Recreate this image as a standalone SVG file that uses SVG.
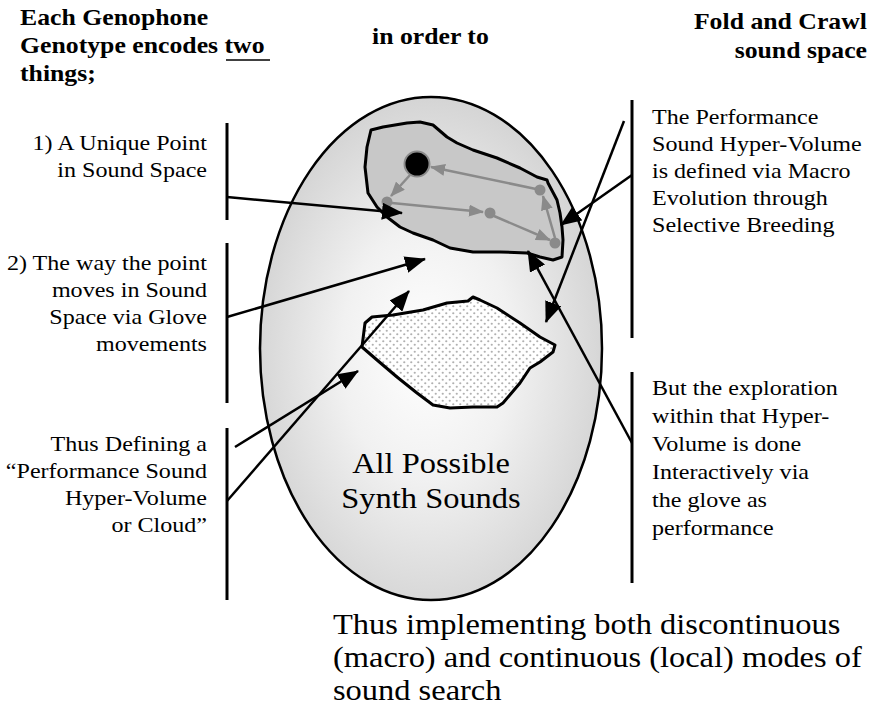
<svg xmlns="http://www.w3.org/2000/svg" width="870" height="708" viewBox="0 0 870 708">
<style>
text{font-family:'Liberation Serif','Times New Roman',Times,Tinos,'DejaVu Serif',serif}
.hdr{font-weight:bold;font-size:23px;fill:#000}
.body{font-size:21.5px;fill:#000}
.big{font-size:29.5px;fill:#000}
.bar{stroke:#000;stroke-width:3;fill:none}
.conn{stroke:#000;stroke-width:2.5;fill:none;marker-end:url(#ah)}
.garr{stroke:#8a8a8a;stroke-width:2.5;fill:none;marker-end:url(#gh)}
</style>
<defs>
<radialGradient id="bg" cx="0.5" cy="0.52" r="0.56" fx="0.48" fy="0.5">
<stop offset="0" stop-color="#ffffff"/>
<stop offset="0.45" stop-color="#f1f1f1"/>
<stop offset="1" stop-color="#d0d0d0"/>
</radialGradient>
<pattern id="dots" width="7" height="7" patternUnits="userSpaceOnUse">
<rect width="7" height="7" fill="#fff"/>
<circle cx="1.75" cy="1.75" r="1.1" fill="#b0b0b0"/>
<circle cx="5.25" cy="5.25" r="1.1" fill="#b0b0b0"/>
</pattern>
<marker id="ah" markerUnits="userSpaceOnUse" markerWidth="21" markerHeight="17" refX="20" refY="8.5" orient="auto">
<path d="M0,0 L21,8.5 L0,17 z" fill="#000"/>
</marker>
<marker id="gh" markerUnits="userSpaceOnUse" markerWidth="15" markerHeight="12" refX="14" refY="6" orient="auto">
<path d="M0,0 L15,6 L0,12 z" fill="#8a8a8a"/>
</marker>
</defs>

<g id="space">
<ellipse cx="431" cy="348.5" rx="171" ry="251.5" fill="url(#bg)" stroke="#000" stroke-width="2.5"/>
</g>

<g id="hypervolume">
<path d="M371,130 L383,127 L407,123 L420,122 L433,125 L447,137 L457,143 L473,150 L497,158 L520,168 L537,177 L547,180 L548,183 L557,200 L560,213 L562,227 L563,240 L562,257 L553,260 L540,257 L527,253 L500,252 L473,252 L450,248 L433,240 L413,233 L400,227 L387,217 L377,207 L368,193 L365,167 L367,147 Z" fill="#c8c8c8" stroke="#000" stroke-width="3" stroke-linejoin="round"/>
</g>

<g id="trajectory">
<line class="garr" x1="536" y1="189" x2="431" y2="167"/>
<line class="garr" x1="410" y1="175" x2="391" y2="196"/>
<line class="garr" x1="392" y1="203" x2="483" y2="212"/>
<line class="garr" x1="494" y1="216" x2="550" y2="240"/>
<line class="garr" x1="555" y1="238" x2="543" y2="196"/>
<circle cx="417" cy="164" r="12.5" fill="#000" stroke="#8a8a8a" stroke-width="2"/>
<circle cx="540" cy="190" r="5.5" fill="#8a8a8a"/>
<circle cx="490" cy="213" r="5.5" fill="#8a8a8a"/>
<circle cx="555" cy="243" r="5.5" fill="#8a8a8a"/>
<circle cx="387" cy="202" r="5.5" fill="#8a8a8a"/>
</g>

<g id="local-cloud">
<path d="M362,347 L365,323 L372,317 L393,315 L423,310 L447,303 L468,301 L473,297 L480,300 L497,308 L520,323 L540,337 L555,345 L553,352 L540,362 L530,368 L520,383 L503,403 L497,407 L473,407 L450,408 L433,405 L417,393 L397,377 L377,360 Z" fill="url(#dots)" stroke="#000" stroke-width="3" stroke-linejoin="round"/>
</g>

<g id="center-label">
<text class="big" text-anchor="middle" transform="translate(431,473) scale(1.1,1)"><tspan x="0" y="0">All Possible</tspan><tspan x="0" y="35">Synth Sounds</tspan></text>
</g>

<g id="bars">
<line class="bar" x1="227" y1="123" x2="227" y2="220"/>
<line class="bar" x1="227" y1="243" x2="227" y2="403"/>
<line class="bar" x1="227" y1="428" x2="227" y2="600"/>
<line class="bar" x1="632" y1="100" x2="632" y2="338"/>
<line class="bar" x1="632" y1="372" x2="632" y2="583"/>
</g>

<g id="connectors">
<line class="conn" x1="227" y1="197" x2="402" y2="213"/>
<line class="conn" x1="227" y1="317" x2="425" y2="259"/>
<line class="conn" x1="235" y1="447" x2="358" y2="371"/>
<line class="conn" x1="227" y1="501" x2="409" y2="291"/>
<line class="conn" x1="632" y1="175" x2="561" y2="225"/>
<line class="conn" x1="624" y1="121" x2="546" y2="322"/>
<line class="conn" x1="632" y1="443" x2="528" y2="251"/>
</g>

<g id="header-left">
<text class="hdr" transform="translate(20,25) scale(1.12,1)"><tspan x="0" y="0">Each Genophone</tspan><tspan x="0" y="28">Genotype encodes two</tspan><tspan x="0" y="56">things;</tspan></text>
<line x1="226" y1="60" x2="270" y2="60" stroke="#000" stroke-width="1.6"/>
</g>
<g id="header-mid">
<text class="hdr" transform="translate(372,44) scale(1.12,1)">in order to</text>
</g>
<g id="header-right">
<text class="hdr" text-anchor="end" transform="translate(867,29) scale(1.12,1)"><tspan x="0" y="0">Fold and Crawl</tspan><tspan x="0" y="29">sound space</tspan></text>
</g>

<g id="note-point">
<text class="body" text-anchor="end" transform="translate(207,150) scale(1.12,1)"><tspan x="0" y="0">1) A Unique Point</tspan><tspan x="0" y="27">in Sound Space</tspan></text>
</g>
<g id="note-moves">
<text class="body" text-anchor="end" transform="translate(207,270) scale(1.12,1)"><tspan x="0" y="0">2) The way the point</tspan><tspan x="0" y="27">moves in Sound</tspan><tspan x="0" y="54">Space via Glove</tspan><tspan x="0" y="81">movements</tspan></text>
</g>
<g id="note-cloud">
<text class="body" text-anchor="end" transform="translate(207,451) scale(1.12,1)"><tspan x="0" y="0">Thus Defining a</tspan><tspan x="0" y="27">“Performance Sound</tspan><tspan x="0" y="54">Hyper-Volume</tspan><tspan x="0" y="81">or Cloud”</tspan></text>
</g>
<g id="note-macro">
<text class="body" transform="translate(652,124) scale(1.12,1)"><tspan x="0" y="0">The Performance</tspan><tspan x="0" y="27">Sound Hyper-Volume</tspan><tspan x="0" y="54">is defined via Macro</tspan><tspan x="0" y="81">Evolution through</tspan><tspan x="0" y="108">Selective Breeding</tspan></text>
</g>
<g id="note-explore">
<text class="body" transform="translate(652,395) scale(1.12,1)"><tspan x="0" y="0">But the exploration</tspan><tspan x="0" y="28">within that Hyper-</tspan><tspan x="0" y="56">Volume is done</tspan><tspan x="0" y="84">Interactively via</tspan><tspan x="0" y="112">the glove as</tspan><tspan x="0" y="140">performance</tspan></text>
</g>
<g id="conclusion">
<text class="big" transform="translate(333,634) scale(1.1,1)"><tspan x="0" y="0">Thus implementing both discontinuous</tspan><tspan x="0" y="33">(macro) and continuous (local) modes of</tspan><tspan x="0" y="66">sound search</tspan></text>
</g>
</svg>
